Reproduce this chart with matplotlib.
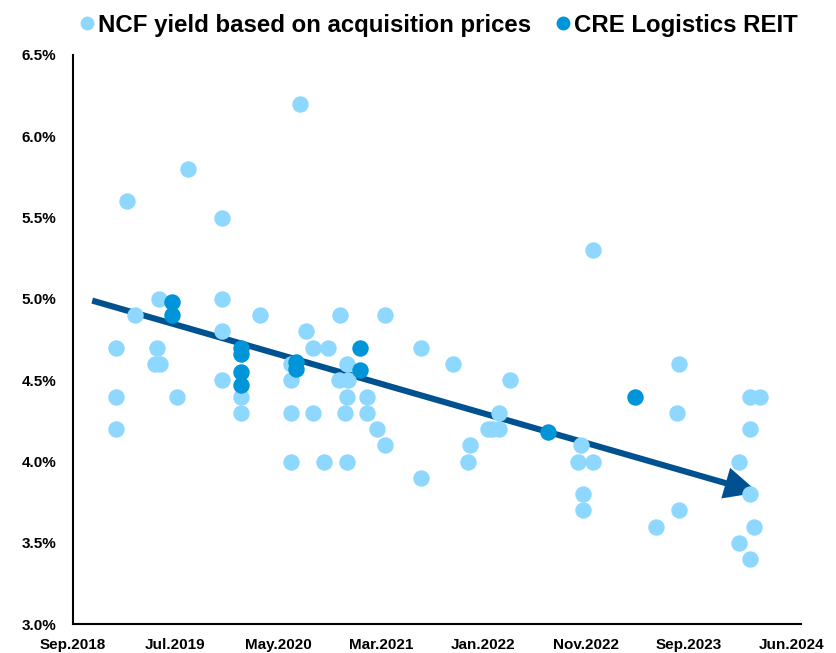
import matplotlib
matplotlib.use("Agg")
import matplotlib.pyplot as plt
import matplotlib.dates as mdates
import pandas as pd
from matplotlib.lines import Line2D

plt.rcParams["font.family"] = ["Liberation Sans", "DejaVu Sans"]
plt.rcParams["font.weight"] = "bold"

LIGHT = "#8ed8ff"
DARK = "#0094d8"
NAVY = "#00518f"

# NCF yields (%) of acquired properties by acquisition date
ncf_dates = [
    "2019-02-03", "2019-02-03", "2019-02-03", "2019-03-07", "2019-03-31",
    "2019-06-04", "2019-05-28", "2019-06-12", "2019-06-09", "2019-07-31",
    "2019-09-01", "2019-12-09", "2019-12-09", "2019-12-09", "2019-12-09",
    "2020-02-03", "2020-02-03", "2020-03-30", "2020-06-28", "2020-06-28",
    "2020-06-28", "2020-06-28", "2020-07-25", "2020-08-11", "2020-08-31",
    "2020-09-01", "2020-10-04", "2020-10-15", "2020-11-19", "2020-11-17",
    "2020-12-08", "2020-12-11", "2020-12-08", "2020-12-03", "2020-12-08",
    "2021-02-06", "2021-02-06", "2021-03-08", "2021-03-30", "2021-03-30",
    "2021-07-13", "2021-07-13", "2021-10-16", "2021-12-04", "2021-11-29",
    "2022-01-25", "2022-02-05", "2022-02-26", "2022-02-26", "2022-03-30",
    "2022-10-16", "2022-10-23", "2022-10-29", "2022-10-29", "2022-11-29",
    "2022-11-29", "2023-05-30", "2023-08-01", "2023-08-07", "2023-08-07",
    "2024-01-29", "2024-01-29", "2024-02-29", "2024-03-30", "2024-02-29",
    "2024-02-29", "2024-03-12", "2024-02-29",
]
ncf_yield = [
    4.7, 4.4, 4.2, 5.6, 4.9,
    4.7, 4.6, 4.6, 5.0, 4.4,
    5.8, 5.5, 5.0, 4.8, 4.5,
    4.4, 4.3, 4.9, 4.6, 4.5,
    4.3, 4.0, 6.2, 4.8, 4.7,
    4.3, 4.0, 4.7, 4.9, 4.5,
    4.6, 4.5, 4.4, 4.3, 4.0,
    4.4, 4.3, 4.2, 4.9, 4.1,
    4.7, 3.9, 4.6, 4.1, 4.0,
    4.2, 4.2, 4.3, 4.2, 4.5,
    4.0, 4.1, 3.8, 3.7, 5.3,
    4.0, 3.6, 4.3, 4.6, 3.7,
    4.0, 3.5, 4.4, 4.4, 4.2,
    3.8, 3.6, 3.4,
]

# CRE Logistics REIT acquisitions
reit_dates = [
    "2019-07-16", "2019-07-16", "2020-02-03", "2020-02-03", "2020-02-03",
    "2020-02-03", "2020-07-12", "2020-07-12", "2021-01-16", "2021-01-16",
    "2022-07-20", "2023-04-01",
]
reit_yield = [
    4.98, 4.90, 4.70, 4.66, 4.55,
    4.47, 4.61, 4.57, 4.70, 4.565,
    4.18, 4.40,
]

# trend arrow end points
trend_dates = ["2018-11-26", "2024-03-25"]
trend_yield = [4.99, 3.81]

# axis range and labelled dates (one label every 300 days)
x_start = "2018-09-30"
x_end = "2024-07-27"
tick_dates = ["2018-09-30", "2019-07-27", "2020-05-22", "2021-03-18",
              "2022-01-12", "2022-11-08", "2023-09-04", "2024-06-30"]
tick_labels = ["Sep.2018", "Jul.2019", "May.2020", "Mar.2021",
               "Jan.2022", "Nov.2022", "Sep.2023", "Jun.2024"]
y_ticks = [3.0, 3.5, 4.0, 4.5, 5.0, 5.5, 6.0, 6.5]

fig = plt.figure(figsize=(8.37, 6.53), dpi=100)
ax = fig.add_axes([0.0869, 0.044, 0.8697, 0.8718])

ax.scatter(pd.to_datetime(ncf_dates), ncf_yield, s=140, color=LIGHT,
           linewidths=0, zorder=3)
ax.scatter(pd.to_datetime(reit_dates), reit_yield, s=140, color=DARK,
           linewidths=0, zorder=4)

td = pd.to_datetime(trend_dates)
ax.annotate("", xy=(mdates.date2num(td[1]), trend_yield[1]),
            xytext=(mdates.date2num(td[0]), trend_yield[0]),
            arrowprops=dict(arrowstyle="-|>,head_length=0.85,head_width=0.4",
                            mutation_scale=20, lw=4.4, color=NAVY,
                            shrinkA=0, shrinkB=0, capstyle="butt",
                            joinstyle="miter"),
            zorder=2)

ax.set_xlim(pd.Timestamp(x_start), pd.Timestamp(x_end))
ax.set_ylim(3.0, 6.5)
ax.set_xticks(pd.to_datetime(tick_dates))
ax.set_xticklabels(tick_labels)
ax.set_yticks(y_ticks)
ax.set_yticklabels([f"{v:.1f}%" for v in y_ticks])
ax.tick_params(axis="both", length=0, labelsize=11)
ax.tick_params(axis="x", pad=10)
ax.tick_params(axis="y", pad=12)

for side in ["top", "right"]:
    ax.spines[side].set_visible(False)
for side in ["left", "bottom"]:
    ax.spines[side].set_linewidth(1.5)
    ax.spines[side].set_color("black")

handles = [
    Line2D([], [], marker="o", linestyle="none", markersize=10,
           markerfacecolor=LIGHT, markeredgewidth=0),
    Line2D([], [], marker="o", linestyle="none", markersize=10,
           markerfacecolor=DARK, markeredgewidth=0),
]
fig.legend(handles, ["NCF yield based on acquisition prices", "CRE Logistics REIT"],
           loc="upper center", bbox_to_anchor=(0.522, 1.012), ncol=2, frameon=False,
           prop={"size": 17.3, "weight": "bold"}, handletextpad=0.0,
           columnspacing=0.9, handlelength=0.9)

fig.savefig("out.png", dpi=100)
